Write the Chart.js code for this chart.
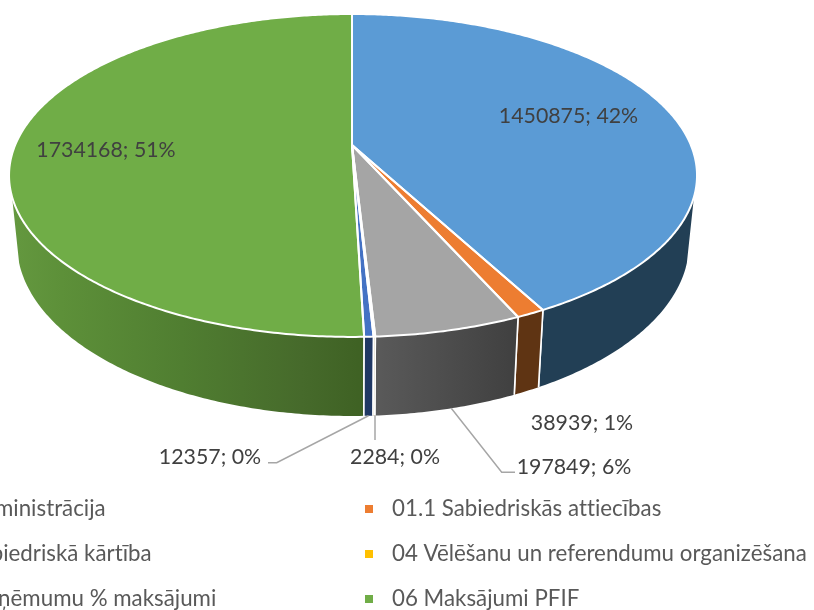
<!DOCTYPE html>
<html><head><meta charset="utf-8">
<style>html,body{margin:0;padding:0;background:#fff;overflow:hidden}canvas{display:block}</style>
<script src="https://cdn.jsdelivr.net/npm/chart.js@4"></script>
</head><body><canvas id="c" width="814" height="610"></canvas>
<script>
const categories = ['01 Administrācija','01.1 Sabiedriskās attiecības','03 Sabiedriskā kārtība','04 Vēlēšanu un referendumu organizēšana','05 Aizņēmumu % maksājumi','06 Maksājumi PFIF'];
const values = [1450875,38939,197849,2284,12357,1734168];
const percents = [42,1,6,0,0,51];
const topColors = ['#5B9BD5','#ED7D31','#A5A5A5','#FFC000','#4472C4','#70AD47'];

const LABEL_FONT = '21.3px Lato, Carlito, sans-serif';
const LEGEND_FONT = '22.3px Lato, Carlito, sans-serif';
// perspective of the disc
const K = 0.1887, SQUASH_TOP = 155.7/336.8, RIGHT = 1.006;
const BOTTOM = {dy:66, rx:329, ry:166.3};
const FRONT_R = 108.3*Math.PI/180, FRONT_L = 251.7*Math.PI/180;
const CORNER_R = 107.2*Math.PI/180, CORNER_L = 252.8*Math.PI/180;

function topPt(a,t){ // t: clockwise from 12 o'clock
  const u=Math.sin(t), v=-Math.cos(t), d=1-K*v, R=a.outerRadius;
  return [a.x+R*u/d*(u>0?RIGHT:1), a.y+R*SQUASH_TOP*v/d];
}
function botPt(a,t){
  const u=Math.sin(t), v=-Math.cos(t), d=1-K*v;
  return [a.x+BOTTOM.rx*u/d*(u>0?RIGHT:1), a.y+BOTTOM.dy+BOTTOM.ry*v/d];
}
function trace(ctx,fn,a,t0,t1,first){
  const n=Math.max(2,Math.ceil(Math.abs(t1-t0)/0.01));
  for(let i=0;i<=n;i++){const p=fn(a,t0+(t1-t0)*i/n); (first&&i===0)?ctx.moveTo(p[0],p[1]):ctx.lineTo(p[0],p[1]);}
}
function wallFill(ctx,i){
  if(i===0) return '#223F55';
  if(i===1) return '#5F3413';
  if(i===3) return '#7F6000';
  if(i===4) return '#203864';
  if(i===2){const g=ctx.createLinearGradient(375,0,515,0);g.addColorStop(0,'#5A5A5A');g.addColorStop(1,'#404040');return g;}
  const g=ctx.createLinearGradient(12,0,365,0);
  g.addColorStop(0,'#64983F');g.addColorStop(.14,'#5D9039');g.addColorStop(.48,'#507E31');g.addColorStop(.82,'#466A2B');g.addColorStop(1,'#3E6123');return g;
}
const pie3d = {
  id:'pie3d',
  beforeDatasetDraw(chart,args){
    const ctx=chart.ctx, arcs=args.meta.data;
    const T=a=>a+Math.PI/2;
    ctx.save();
    ctx.lineJoin='round';
    // walls
    const order=[0,5,1,2,4,3];
    order.forEach(i=>{
      const a=arcs[i]; let t0=T(a.startAngle), t1=T(a.endAngle);
      const top0=Math.max(t0,FRONT_R), top1=Math.min(t1,FRONT_L);
      if(top1<=top0) return;
      const b0=t0<=FRONT_R?CORNER_R:top0, b1=t1>=FRONT_L?CORNER_L:top1;
      ctx.beginPath();
      trace(ctx,topPt,a,top0,top1,true);
      trace(ctx,botPt,a,b1,b0,false);
      ctx.closePath();
      ctx.fillStyle=wallFill(ctx,i); ctx.fill();
      // white seams between walls
      ctx.strokeStyle='#fff'; ctx.lineWidth=1.6;
      ctx.beginPath();
      if(t0>FRONT_R){const p=topPt(a,t0),q=botPt(a,t0);ctx.moveTo(p[0],p[1]);ctx.lineTo(q[0],q[1]);}
      if(t1<FRONT_L){const p=topPt(a,t1),q=botPt(a,t1);ctx.moveTo(p[0],p[1]);ctx.lineTo(q[0],q[1]);}
      ctx.stroke();
    });
    // top face
    arcs.forEach((a,i)=>{
      const t0=T(a.startAngle), t1=T(a.endAngle);
      ctx.beginPath(); ctx.moveTo(a.x,a.y);
      trace(ctx,topPt,a,t0,t1,false);
      ctx.closePath();
      ctx.fillStyle=topColors[i]; ctx.fill();
    });
    arcs.forEach(a=>{
      const t0=T(a.startAngle), t1=T(a.endAngle);
      ctx.beginPath(); ctx.moveTo(a.x,a.y);
      trace(ctx,topPt,a,t0,t1,false);
      ctx.closePath();
      ctx.strokeStyle='#fff'; ctx.lineWidth=2; ctx.stroke();
    });
    ctx.restore();
    return false;
  },
  afterDraw(chart){
    const ctx=chart.ctx, arcs=chart.getDatasetMeta(0).data;
    const T=a=>a+Math.PI/2;
    ctx.save();
    // leader lines
    ctx.strokeStyle='#A6A6A6'; ctx.lineWidth=1.5;
    const bottomAt=(i,f)=>{const a=arcs[i];return botPt(a,T(a.startAngle)*(1-f)+T(a.endAngle)*f);};
    let p=bottomAt(2,.47);
    ctx.beginPath();ctx.moveTo(p[0],p[1]);ctx.lineTo(501.7,472.3);ctx.lineTo(515,472.3);ctx.stroke();
    p=bottomAt(3,.5);
    ctx.beginPath();ctx.moveTo(375,p[1]);ctx.lineTo(375,440);ctx.stroke();
    p=bottomAt(4,.5);
    ctx.beginPath();ctx.moveTo(p[0],p[1]);ctx.lineTo(276.7,462.7);ctx.lineTo(268,462.7);ctx.stroke();
    // data labels
    ctx.font=LABEL_FONT; ctx.letterSpacing='0.01px'; ctx.fillStyle='#404040'; ctx.textAlign='center'; ctx.textBaseline='middle';
    const spots=[[568.5,116],[582,423],[574,467],[395,457],[210,457],[106,150]];
    values.forEach((v,i)=>ctx.fillText(v+'; '+percents[i]+'%',spots[i][0],spots[i][1]));
    // legend
    ctx.font=LEGEND_FONT; ctx.textAlign='left';
    const rows=[509,554,599], cols=[{m:-91,t:-64},{m:365,t:392}];
    categories.forEach((c,i)=>{
      const col=cols[i%2], y=rows[Math.floor(i/2)];
      ctx.fillStyle=topColors[i]; ctx.fillRect(col.m,y-4,8,8);
      ctx.fillStyle='#595959'; ctx.fillText(c,col.t,y);
    });
    ctx.restore();
  }
};
new Chart(document.getElementById('c'),{
  type:'doughnut',
  data:{labels:categories,datasets:[{data:values,backgroundColor:topColors,borderColor:'#fff',borderWidth:0}]},
  options:{
    responsive:false,animation:false,cutout:0,radius:336.8,rotation:0,
    layout:{padding:{left:0,top:0,right:110,bottom:320}},
    plugins:{legend:{display:false},tooltip:{enabled:false}}
  },
  plugins:[pie3d]
});
</script></body></html>
